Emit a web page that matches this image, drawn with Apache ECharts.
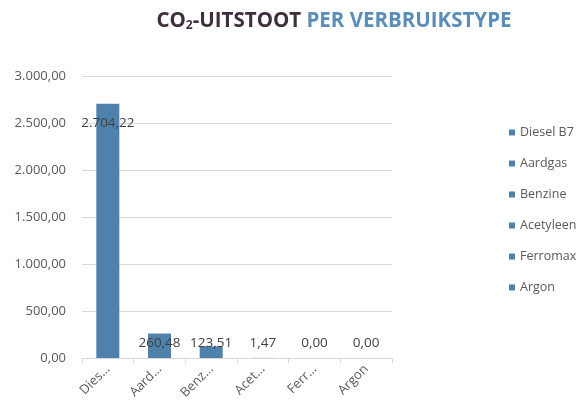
<!DOCTYPE html>
<html>
<head>
<meta charset="utf-8">
<script src="https://cdn.jsdelivr.net/npm/echarts@6/dist/echarts.min.js"></script>
<style>
html,body{margin:0;padding:0;background:#fff;}
#c{width:584px;height:405px;}
</style>
</head>
<body>
<div id="c"></div>
<script>
const categories = ['Diesel B7', 'Aardgas', 'Benzine', 'Acetyleen', 'Ferromax', 'Argon'];
const values = [2704.22, 260.48, 123.51, 1.47, 0.00, 0.00];
const yTicks = { min: 0, max: 3000, interval: 500 };

function nl(v) {
  const fixed = Math.abs(v).toFixed(2);
  let [ip, dp] = fixed.split('.');
  ip = ip.replace(/\B(?=(\d{3})+(?!\d))/g, '.');
  return (v < 0 ? '-' : '') + ip + ',' + dp;
}

const barColor = '#4F81AD';
const font = 'Open Sans';

const series = categories.map((name, i) => ({
  name: name,
  type: 'bar',
  stack: 'all',
  barWidth: 23,
  itemStyle: { color: barColor },
  data: values.map((v, j) => (j === i ? v : '-')),
  label: {
    show: true,
    position: i === 0 ? 'insideTop' : 'insideBottom',
    distance: i === 0 ? 12 : 8,
    formatter: p => nl(p.value),
    color: '#404040',
    fontFamily: font,
    fontSize: 13.5
  }
}));

const chart = echarts.init(document.getElementById('c'), null, { renderer: 'canvas' });
chart.setOption({
  animation: false,
  title: {
    text: '{a|CO}{s|2}{a|-UITSTOOT }{b|PER VERBRUIKSTYPE}',
    left: 329,
    textAlign: 'center',
    top: 6,
    textStyle: {
      rich: {
        a: { fontFamily: font, fontWeight: 'bold', fontSize: 20.5, color: '#3F2E3E' },
        s: { fontFamily: font, fontWeight: 'bold', fontSize: 12, color: '#3F2E3E', verticalAlign: 'bottom', padding: [9, 0, 0, 0] },
        b: { fontFamily: font, fontWeight: 'bold', fontSize: 20.5, color: '#5A8DBA' }
      }
    }
  },
  grid: { left: 82, right: 192, top: 76, bottom: 47, containLabel: false },
  legend: {
    orient: 'vertical',
    left: 504,
    top: 121,
    itemWidth: 6,
    itemHeight: 6,
    itemGap: 18,
    icon: 'rect',
    data: categories,
    textStyle: { color: '#595959', fontFamily: font, fontSize: 12.5 }
  },
  xAxis: {
    type: 'category',
    data: categories,
    axisLine: { lineStyle: { color: '#D9D9D9' } },
    axisTick: { show: true, alignWithLabel: false, length: 5, lineStyle: { color: '#D9D9D9' } },
    axisLabel: {
      rotate: 45,
      interval: 0,
      margin: 9,
      color: '#595959',
      fontFamily: font,
      fontSize: 13,
      formatter: n => (n.length > 5 ? n.slice(0, 4) + '…' : n)
    }
  },
  yAxis: {
    type: 'value',
    min: yTicks.min,
    max: yTicks.max,
    interval: yTicks.interval,
    axisLine: { show: false },
    axisTick: { show: false },
    splitLine: { lineStyle: { color: '#D9D9D9' } },
    axisLabel: {
      color: '#595959',
      fontFamily: font,
      fontSize: 13,
      margin: 16,
      formatter: v => nl(v)
    }
  },
  series: series
});
</script>
</body>
</html>
